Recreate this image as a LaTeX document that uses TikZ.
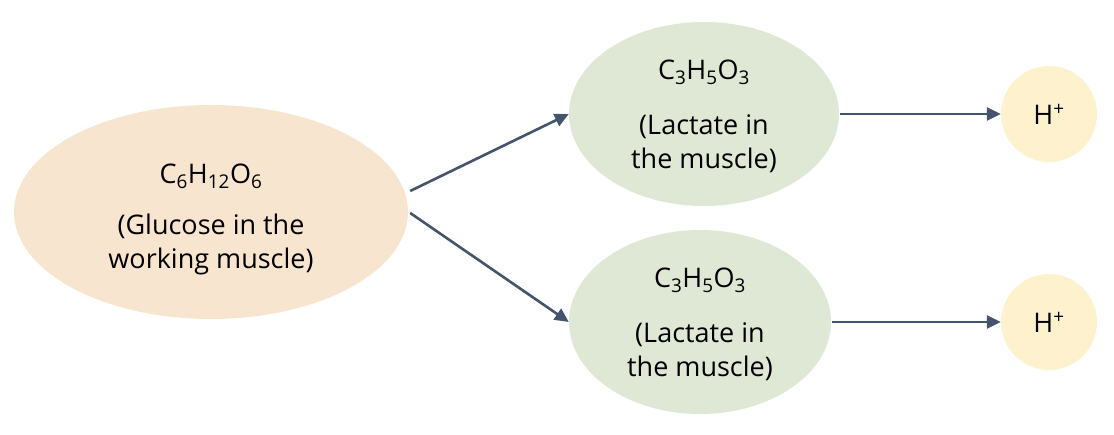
\documentclass[tikz,border=0pt]{standalone}
\usepackage{fontspec}
\setmainfont{Open Sans}
\usetikzlibrary{shapes.geometric,arrows.meta}
\definecolor{peach}{HTML}{F8E5D0}
\definecolor{sage}{HTML}{DEE8D5}
\definecolor{cream}{HTML}{FEF2CE}
\definecolor{slate}{HTML}{44546A}
\tikzset{
  blob/.style={ellipse, draw=none, inner sep=0pt, align=center,
    font=\fontsize{27}{34}\selectfont, text=black},
  ion/.style={circle, draw=none, fill=cream, minimum size=96pt, inner sep=0pt,
    font=\fontsize{27}{30}\selectfont},
  link/.style={draw=slate, line width=2.6pt, -{Triangle[length=14pt,width=13pt]}}
}
\begin{document}
\begin{tikzpicture}[x=1pt,y=1pt]
\useasboundingbox (0,0) rectangle (1114,434);
\node[blob, fill=peach, minimum width=394pt, minimum height=214pt] (L) at (211,222) {};
\node[blob, fill=sage, minimum width=270pt, minimum height=184pt] (T) at (704,320) {};
\node[blob, fill=sage, minimum width=262pt, minimum height=184pt] (B) at (700,112) {};
\node[blob] (Lt) at (211,215)
  {C\textsubscript{6}H\textsubscript{12}O\textsubscript{6}\\[17pt](Glucose in the\\working muscle)};
\node[blob] (Tt) at (704,318)
  {C\textsubscript{3}H\textsubscript{5}O\textsubscript{3}\\[21pt](Lactate in\\the muscle)};
\node[blob] (Bt) at (700,110)
  {C\textsubscript{3}H\textsubscript{5}O\textsubscript{3}\\[21pt](Lactate in\\the muscle)};
\node[ion] (H1) at (1049,320) {H\textsuperscript{+}};
\node[ion] (H2) at (1049,112) {H\textsuperscript{+}};
\draw[link] ([shift={(2,21)}]L.east) -- (T.west);
\draw[link] ([shift={(2,-1)}]L.east) -- (B.west);
\draw[link] ([xshift=1pt]T.east) -- (H1.west);
\draw[link] ([xshift=1pt]B.east) -- (H2.west);
\end{tikzpicture}
\end{document}
